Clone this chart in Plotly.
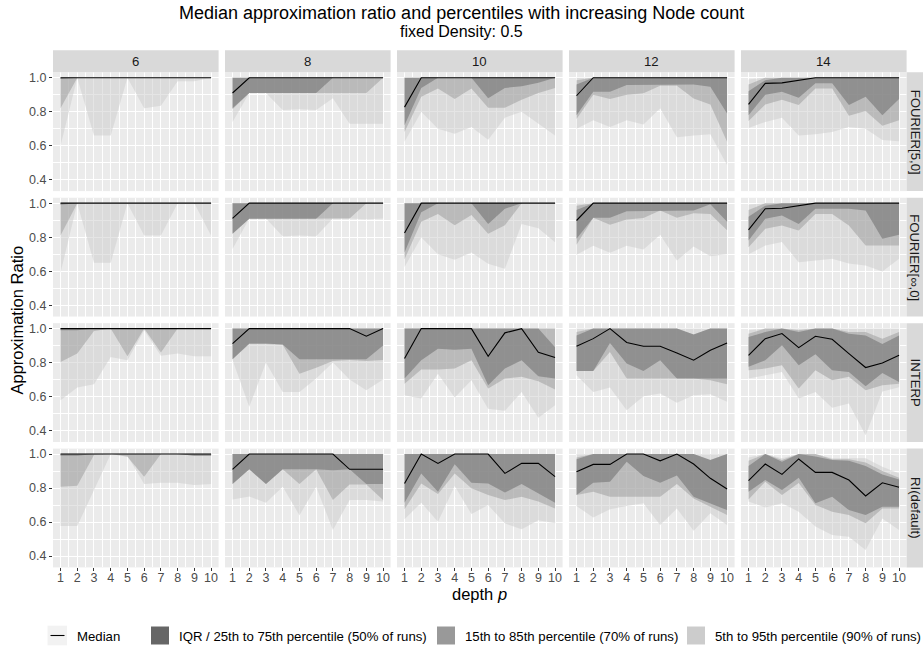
import plotly.graph_objects as go

# ---------------------------------------------------------------- data
DEPTH = [1, 2, 3, 4, 5, 6, 7, 8, 9, 10]
NODES = [6, 8, 10, 12, 14]
METHODS = ["FOURIER[5,0]", "FOURIER[\u221e,0]", "INTERP", "RI(default)"]
Y_TICKS = [0.4, 0.6, 0.8, 1.0]
Y_TICK_TEXT = ["0.4", "0.6", "0.8", "1.0"]

ONES = [1.0, 1.0, 1.0, 1.0, 1.0, 1.0, 1.0, 1.0, 1.0, 1.0]

# FOURIER[5,0]
F5_P05 = {6: [0.60, 1.00, 0.66, 0.66, 1.00, 0.82, 0.835, 0.98, 0.98, 1.00],
          8: [0.74, 0.91, 0.91, 0.81, 0.815, 0.81, 0.88, 0.73, 0.73, 0.73],
          10: [0.624, 0.80, 0.70, 0.67, 0.71, 0.635, 0.765, 0.80, 0.73, 0.66],
          12: [0.70, 0.75, 0.71, 0.75, 0.725, 0.82, 0.65, 0.66, 0.667, 0.486],
          14: [0.705, 0.74, 0.765, 0.66, 0.667, 0.68, 0.71, 0.70, 0.633, 0.627]}
F5_P15 = {6: [0.82, 1.0, 1.0, 1.0, 1.0, 1.0, 1.0, 1.0, 1.0, 1.0],
          8: [0.815, 0.91, 0.91, 0.91, 0.91, 0.91, 0.91, 0.91, 0.91, 1.0],
          10: [0.68, 0.888, 0.937, 0.875, 0.937, 0.824, 0.824, 0.87, 0.91, 0.94],
          12: [0.757, 0.90, 0.875, 0.90, 0.908, 0.953, 0.953, 0.878, 0.843, 0.624],
          14: [0.745, 0.843, 0.87, 0.84, 0.937, 0.937, 0.776, 0.804, 0.718, 0.75]}
F5_P25 = {6: [0.993, 1.0, 1.0, 1.0, 1.0, 1.0, 1.0, 1.0, 1.0, 1.0],
          8: [0.82, 0.91, 0.91, 0.91, 0.91, 0.91, 1.0, 1.0, 1.0, 1.0],
          10: [0.72, 0.94, 1.0, 1.0, 1.0, 0.88, 0.94, 0.95, 0.97, 1.0],
          12: [0.78, 0.918, 0.918, 0.957, 0.957, 0.96, 0.96, 0.96, 0.947, 0.79],
          14: [0.78, 0.90, 0.918, 0.882, 0.967, 0.967, 0.84, 0.888, 0.78, 0.875]}
F5_P50 = {6: [1.0, 1.0, 1.0, 1.0, 1.0, 1.0, 1.0, 1.0, 1.0, 1.0],
          8: [0.91, 1.0, 1.0, 1.0, 1.0, 1.0, 1.0, 1.0, 1.0, 1.0],
          10: [0.827, 1.0, 1.0, 1.0, 1.0, 1.0, 1.0, 1.0, 1.0, 1.0],
          12: [0.894, 1.0, 1.0, 1.0, 1.0, 1.0, 1.0, 1.0, 1.0, 1.0],
          14: [0.843, 0.967, 0.97, 0.984, 1.0, 1.0, 1.0, 1.0, 1.0, 1.0]}
F5_P75 = {6: ONES, 8: ONES, 10: ONES,
          12: [0.96, 1.0, 1.0, 1.0, 1.0, 1.0, 1.0, 1.0, 1.0, 1.0],
          14: [0.92, 0.985, 1.0, 1.0, 1.0, 1.0, 1.0, 1.0, 1.0, 1.0]}
F5_P85 = {6: ONES, 8: ONES, 10: ONES,
          12: [0.985, 1.0, 1.0, 1.0, 1.0, 1.0, 1.0, 1.0, 1.0, 1.0],
          14: [0.96, 1.0, 1.0, 1.0, 1.0, 1.0, 1.0, 1.0, 1.0, 1.0]}
F5_P95 = {6: ONES, 8: ONES, 10: ONES, 12: ONES,
          14: [0.99, 1.0, 1.0, 1.0, 1.0, 1.0, 1.0, 1.0, 1.0, 1.0]}

# FOURIER[inf,0]
FI_P05 = {6: [0.59, 1.0, 0.65, 0.65, 1.0, 0.81, 0.81, 1.0, 1.0, 0.81],
          8: [0.73, 0.91, 0.91, 0.806, 0.81, 0.806, 0.91, 0.91, 0.905, 0.91],
          10: [0.624, 0.80, 0.70, 0.667, 0.71, 0.643, 0.614, 0.878, 0.853, 0.77],
          12: [0.696, 0.75, 0.708, 0.75, 0.727, 0.814, 0.663, 0.745, 0.688, 0.70],
          14: [0.70, 0.751, 0.771, 0.653, 0.663, 0.673, 0.645, 0.633, 0.598, 0.673]}
FI_P15 = {6: [0.81, 1.0, 1.0, 1.0, 1.0, 1.0, 1.0, 1.0, 1.0, 1.0],
          8: [0.82, 0.908, 0.908, 0.908, 0.908, 0.908, 0.91, 0.91, 1.0, 1.0],
          10: [0.67, 0.89, 0.937, 0.87, 0.93, 0.82, 0.87, 1.0, 1.0, 1.0],
          12: [0.755, 0.914, 0.873, 0.904, 0.912, 0.957, 0.914, 0.94, 0.937, 0.84],
          14: [0.741, 0.849, 0.869, 0.839, 0.937, 0.937, 0.869, 0.751, 0.751, 0.751]}
FI_P25 = {6: [0.99, 1.0, 1.0, 1.0, 1.0, 1.0, 1.0, 1.0, 1.0, 1.0],
          8: [0.82, 0.908, 0.908, 0.908, 0.908, 0.908, 1.0, 1.0, 1.0, 1.0],
          10: [0.71, 0.947, 1.0, 1.0, 1.0, 0.878, 0.967, 1.0, 1.0, 1.0],
          12: [0.79, 0.914, 0.914, 0.953, 0.957, 0.957, 0.957, 0.957, 0.994, 0.89],
          14: [0.78, 0.908, 0.927, 0.878, 0.967, 0.967, 0.967, 0.957, 0.79, 0.814]}
FI_P50 = {6: [1.0, 1.0, 1.0, 1.0, 1.0, 1.0, 1.0, 1.0, 1.0, 1.0],
          8: [0.91, 1.0, 1.0, 1.0, 1.0, 1.0, 1.0, 1.0, 1.0, 1.0],
          10: [0.825, 1.0, 1.0, 1.0, 1.0, 1.0, 1.0, 1.0, 1.0, 1.0],
          12: [0.898, 1.0, 1.0, 1.0, 1.0, 1.0, 1.0, 1.0, 1.0, 1.0],
          14: [0.843, 0.967, 0.97, 0.986, 1.0, 1.0, 1.0, 1.0, 1.0, 1.0]}
FI_P75 = {6: ONES, 8: ONES, 10: ONES,
          12: [0.96, 1.0, 1.0, 1.0, 1.0, 1.0, 1.0, 1.0, 1.0, 1.0],
          14: [0.92, 0.985, 1.0, 1.0, 1.0, 1.0, 1.0, 1.0, 1.0, 1.0]}
FI_P85 = {6: ONES, 8: ONES, 10: ONES,
          12: [0.985, 1.0, 1.0, 1.0, 1.0, 1.0, 1.0, 1.0, 1.0, 1.0],
          14: [0.96, 1.0, 1.0, 1.0, 1.0, 1.0, 1.0, 1.0, 1.0, 1.0]}
FI_P95 = {6: ONES, 8: ONES, 10: ONES, 12: ONES,
          14: [0.99, 1.0, 1.0, 1.0, 1.0, 1.0, 1.0, 1.0, 1.0, 1.0]}

# INTERP
IN_P05 = {6: [0.578, 0.653, 0.673, 0.833, 0.814, 0.99, 0.84, 0.853, 0.837, 0.837],
          8: [0.815, 0.54, 0.80, 0.627, 0.627, 0.706, 0.80, 0.70, 0.637, 0.70],
          10: [0.608, 0.588, 0.735, 0.594, 0.696, 0.529, 0.516, 0.627, 0.476, 0.549],
          12: [0.725, 0.627, 0.653, 0.52, 0.602, 0.618, 0.563, 0.608, 0.614, 0.569],
          14: [0.706, 0.725, 0.745, 0.588, 0.627, 0.535, 0.559, 0.373, 0.63, 0.655]}
IN_P15 = {6: [0.804, 0.853, 0.986, 1.0, 0.837, 1.0, 0.86, 1.0, 1.0, 1.0],
          8: [0.82, 0.91, 0.91, 0.905, 0.735, 0.77, 0.81, 0.815, 0.81, 0.815],
          10: [0.676, 0.759, 0.759, 0.765, 0.814, 0.647, 0.706, 0.716, 0.69, 0.641],
          12: [0.75, 0.751, 0.863, 0.706, 0.706, 0.706, 0.706, 0.706, 0.696, 0.673],
          14: [0.755, 0.765, 0.784, 0.647, 0.755, 0.696, 0.716, 0.637, 0.667, 0.675]}
IN_P25 = {6: [0.99, 0.99, 1.0, 1.0, 1.0, 1.0, 1.0, 1.0, 1.0, 1.0],
          8: [0.82, 0.912, 0.912, 0.906, 0.82, 0.82, 0.82, 0.82, 0.82, 0.90],
          10: [0.706, 0.814, 0.882, 0.876, 0.882, 0.667, 0.765, 0.814, 0.72, 0.706],
          12: [0.751, 0.751, 0.916, 0.794, 0.751, 0.814, 0.706, 0.706, 0.706, 0.706],
          14: [0.775, 0.814, 0.902, 0.784, 0.849, 0.755, 0.745, 0.661, 0.739, 0.686]}
IN_P50 = {6: [1.0, 1.0, 1.0, 1.0, 1.0, 1.0, 1.0, 1.0, 1.0, 1.0],
          8: [0.912, 1.0, 1.0, 1.0, 1.0, 1.0, 1.0, 1.0, 0.955, 1.0],
          10: [0.824, 1.0, 1.0, 1.0, 1.0, 0.837, 0.975, 1.0, 0.86, 0.83],
          12: [0.896, 0.941, 1.0, 0.918, 0.896, 0.896, 0.857, 0.814, 0.873, 0.916],
          14: [0.843, 0.941, 0.971, 0.888, 0.955, 0.937, 0.853, 0.771, 0.798, 0.843]}
IN_P75 = {6: ONES, 8: ONES,
          10: [1.0, 1.0, 1.0, 1.0, 1.0, 1.0, 1.0, 1.0, 1.0, 0.89],
          12: [0.96, 1.0, 1.0, 1.0, 1.0, 1.0, 1.0, 0.965, 1.0, 1.0],
          14: [0.95, 0.98, 1.0, 0.98, 1.0, 1.0, 0.97, 0.96, 0.91, 0.96]}
IN_P85 = {6: ONES, 8: ONES, 10: ONES,
          12: [0.98, 1.0, 1.0, 1.0, 1.0, 1.0, 1.0, 0.965, 1.0, 1.0],
          14: [0.97, 1.0, 1.0, 0.99, 1.0, 1.0, 0.98, 0.98, 0.94, 0.98]}
IN_P95 = {6: ONES, 8: ONES, 10: ONES, 12: ONES,
          14: [0.99, 1.0, 1.0, 1.0, 1.0, 1.0, 1.0, 1.0, 1.0, 1.0]}

# RI(default)
RI_P05 = {6: [0.576, 0.576, 0.788, 1.0, 0.99, 0.824, 0.831, 0.831, 0.818, 0.824],
          8: [0.733, 0.75, 0.714, 0.808, 0.64, 0.808, 0.553, 0.73, 0.73, 0.72],
          10: [0.616, 0.714, 0.602, 0.812, 0.647, 0.70, 0.592, 0.557, 0.61, 0.592],
          12: [0.694, 0.627, 0.675, 0.694, 0.71, 0.582, 0.68, 0.549, 0.651, 0.582],
          14: [0.72, 0.686, 0.71, 0.661, 0.573, 0.524, 0.514, 0.435, 0.62, 0.553]}
RI_P15 = {6: [0.808, 0.814, 0.994, 1.0, 0.984, 0.867, 1.0, 1.0, 0.99, 0.99],
          8: [0.824, 0.91, 0.824, 0.91, 0.824, 0.91, 0.73, 0.82, 0.82, 0.73],
          10: [0.675, 0.827, 0.765, 0.886, 0.798, 0.759, 0.729, 0.749, 0.72, 0.68],
          12: [0.759, 0.778, 0.749, 0.749, 0.749, 0.749, 0.824, 0.739, 0.69, 0.641],
          14: [0.733, 0.837, 0.759, 0.83, 0.70, 0.661, 0.641, 0.592, 0.68, 0.68]}
RI_P25 = {6: [0.99, 0.99, 1.0, 1.0, 1.0, 1.0, 1.0, 1.0, 0.99, 0.99],
          8: [0.824, 0.91, 0.824, 0.91, 0.91, 0.91, 0.905, 0.91, 0.824, 0.824],
          10: [0.714, 0.886, 0.778, 0.94, 0.831, 0.827, 0.773, 0.824, 0.769, 0.714],
          12: [0.759, 0.831, 0.837, 0.955, 0.871, 0.831, 0.873, 0.749, 0.71, 0.67],
          14: [0.778, 0.847, 0.788, 0.86, 0.71, 0.749, 0.67, 0.641, 0.69, 0.69]}
RI_P50 = {6: [1.0, 1.0, 1.0, 1.0, 1.0, 1.0, 1.0, 1.0, 1.0, 1.0],
          8: [0.91, 1.0, 1.0, 1.0, 1.0, 1.0, 1.0, 0.91, 0.91, 0.91],
          10: [0.827, 1.0, 0.945, 1.0, 1.0, 1.0, 0.886, 0.945, 0.945, 0.867],
          12: [0.896, 0.939, 0.939, 1.0, 1.0, 0.96, 1.0, 0.941, 0.857, 0.794],
          14: [0.843, 0.941, 0.88, 0.971, 0.892, 0.892, 0.847, 0.753, 0.831, 0.804]}
RI_P75 = {6: ONES, 8: ONES, 10: ONES,
          12: [0.97, 1.0, 1.0, 1.0, 1.0, 1.0, 1.0, 1.0, 0.965, 1.0],
          14: [0.93, 1.0, 0.955, 1.0, 0.985, 0.965, 0.96, 0.93, 0.88, 0.85]}
RI_P85 = {6: ONES, 8: ONES, 10: ONES,
          12: [0.98, 1.0, 1.0, 1.0, 1.0, 1.0, 1.0, 1.0, 0.965, 1.0],
          14: [0.96, 1.0, 0.965, 1.0, 1.0, 0.97, 0.97, 0.95, 0.90, 0.86]}
RI_P95 = {6: ONES, 8: ONES, 10: ONES, 12: ONES,
          14: [0.98, 1.0, 0.975, 1.0, 1.0, 0.975, 0.975, 0.975, 0.925, 0.886]}

# method -> (p05, p15, p25, p50, p75, p85, p95)
TABLE = {
    METHODS[0]: (F5_P05, F5_P15, F5_P25, F5_P50, F5_P75, F5_P85, F5_P95),
    METHODS[1]: (FI_P05, FI_P15, FI_P25, FI_P50, FI_P75, FI_P85, FI_P95),
    METHODS[2]: (IN_P05, IN_P15, IN_P25, IN_P50, IN_P75, IN_P85, IN_P95),
    METHODS[3]: (RI_P05, RI_P15, RI_P25, RI_P50, RI_P75, RI_P85, RI_P95),
}

LEGEND_LABELS = ["Median",
                 "IQR / 25th to 75th percentile (50% of runs)",
                 "15th to 85th percentile (70% of runs)",
                 "5th to 95th percentile (90% of runs)"]

# ---------------------------------------------------------------- styling
W, H = 923, 648
FONT = "Liberation Sans, Arial, Helvetica, sans-serif"
BAND_FILL = {"light": "rgba(204,204,204,0.5)",
             "mid": "rgba(153,153,153,0.5)",
             "dark": "rgba(102,102,102,0.5)"}
KEY_FILL = {"light": "#CCCCCC", "mid": "#999999", "dark": "#666666"}

PANEL_L0, PANEL_DX, PANEL_W = 53.0, 172.0, 165.6
PANEL_T0, PANEL_DY, PANEL_H = 72.3, 125.43, 118.8
X_RANGE = [0.55, 10.45]
Y_RANGE = [0.333, 1.032]
TICK_FONT = dict(family=FONT, size=12.5, color="#4D4D4D")


def px(x):
    return x / W


def py(y):
    return 1 - y / H


def text(s, x, y, size, color="black", angle=0, xanchor="center"):
    return dict(text=s, xref="paper", yref="paper", x=px(x), y=py(y),
                xanchor=xanchor, yanchor="middle", showarrow=False,
                textangle=angle, font=dict(family=FONT, size=size, color=color))


fig = go.Figure()
layout = {}
shapes = []
annotations = []

for r, method in enumerate(METHODS):
    p05, p15, p25, p50, p75, p85, p95 = TABLE[method]
    for c, n in enumerate(NODES):
        k = r * len(NODES) + c + 1
        xa = "x" if k == 1 else f"x{k}"
        ya = "y" if k == 1 else f"y{k}"
        left = PANEL_L0 + c * PANEL_DX
        top = PANEL_T0 + r * PANEL_DY

        # percentile ribbons, widest first so the narrower ones stack on top
        for lo, hi, key in ((p05, p95, "light"), (p15, p85, "mid"), (p25, p75, "dark")):
            fig.add_trace(go.Scatter(
                x=DEPTH + DEPTH[::-1], y=hi[n] + lo[n][::-1],
                fill="toself", fillcolor=BAND_FILL[key], mode="lines",
                line=dict(width=0), hoverinfo="skip", showlegend=False,
                xaxis=xa, yaxis=ya))
        fig.add_trace(go.Scatter(
            x=DEPTH, y=p50[n], mode="lines", name="Median",
            line=dict(color="black", width=1.1), showlegend=False,
            xaxis=xa, yaxis=ya))

        bottom_row = r == len(METHODS) - 1
        left_col = c == 0
        layout["xaxis" if k == 1 else f"xaxis{k}"] = dict(
            domain=[px(left), px(left + PANEL_W)], anchor=ya, range=X_RANGE,
            tickmode="array", tickvals=DEPTH, ticktext=[str(d) for d in DEPTH],
            showgrid=True, gridcolor="white", gridwidth=1.1,
            minor=dict(tickmode="array", tickvals=[1.5, 2.5, 3.5, 4.5, 5.5, 6.5, 7.5, 8.5, 9.5],
                       showgrid=True, gridcolor="white", gridwidth=0.55),
            zeroline=False, showline=False,
            ticks="outside" if bottom_row else "", ticklen=3, tickwidth=1,
            tickcolor="#333333", showticklabels=bottom_row, ticklabelstandoff=-4,
            tickfont=TICK_FONT, fixedrange=True)
        layout["yaxis" if k == 1 else f"yaxis{k}"] = dict(
            domain=[py(top + PANEL_H), py(top)], anchor=xa, range=Y_RANGE,
            tickmode="array", tickvals=Y_TICKS, ticktext=Y_TICK_TEXT,
            showgrid=True, gridcolor="white", gridwidth=1.1,
            minor=dict(tickmode="array", tickvals=[0.5, 0.7, 0.9],
                       showgrid=True, gridcolor="white", gridwidth=0.55),
            zeroline=False, showline=False,
            ticks="outside" if left_col else "", ticklen=3, tickwidth=1,
            tickcolor="#333333", showticklabels=left_col,
            tickfont=TICK_FONT, fixedrange=True)

# facet strips: node counts along the top
for c, n in enumerate(NODES):
    left = PANEL_L0 + c * PANEL_DX
    shapes.append(dict(type="rect", xref="paper", yref="paper",
                       x0=px(left), x1=px(left + PANEL_W), y0=py(72.3), y1=py(50.3),
                       fillcolor="#D9D9D9", line=dict(width=0)))
    annotations.append(text(str(n), left + PANEL_W / 2, 61.8, 13.2, "#1A1A1A"))

# facet strips: methods along the right
strip_x0 = PANEL_L0 + 4 * PANEL_DX + PANEL_W
for r, method in enumerate(METHODS):
    top = PANEL_T0 + r * PANEL_DY
    shapes.append(dict(type="rect", xref="paper", yref="paper",
                       x0=px(strip_x0), x1=1.0, y0=py(top + PANEL_H), y1=py(top),
                       fillcolor="#D9D9D9", line=dict(width=0)))
    annotations.append(text(method, 915.0, top + PANEL_H / 2, 13.2, "#1A1A1A", angle=90))

# titles
annotations += [
    text("Median approximation ratio and percentiles with increasing Node count",
         461.5, 12.5, 18.0),
    text("fixed Density: 0.5", 461.5, 31.5, 16.0),
    text("Approximation Ratio", 16.5, 320, 16.5, angle=-90),
    text("depth <i>p</i>", 480, 594, 16.5),
]

# legend: median line key, then the three percentile bands
KEY = 18.0
LEG_Y = 635.5
shapes.append(dict(type="rect", xref="paper", yref="paper",
                   x0=px(47.5), x1=px(47.5 + KEY + 1.5), y0=py(LEG_Y + 9.8), y1=py(LEG_Y - 9.8),
                   fillcolor="#F2F2F2", line=dict(width=0)))
shapes.append(dict(type="line", xref="paper", yref="paper",
                   x0=px(50.5), x1=px(64.5), y0=py(LEG_Y), y1=py(LEG_Y),
                   line=dict(color="black", width=1.1)))
annotations.append(text(LEGEND_LABELS[0], 75.0, LEG_Y + 1, 13.2, xanchor="left"))

for (key_x, text_x), label, key in zip(((151.0, 177.0), (437.0, 463.3), (687.0, 713.3)),
                                        LEGEND_LABELS[1:], ("dark", "mid", "light")):
    shapes.append(dict(type="rect", xref="paper", yref="paper",
                       x0=px(key_x), x1=px(key_x + KEY),
                       y0=py(LEG_Y + KEY / 2), y1=py(LEG_Y - KEY / 2),
                       fillcolor=KEY_FILL[key], line=dict(width=0)))
    annotations.append(text(label, text_x, LEG_Y + 1, 13.2, xanchor="left"))

layout.update(
    width=W, height=H, autosize=False,
    margin=dict(l=0, r=0, t=0, b=0),
    paper_bgcolor="white", plot_bgcolor="#EBEBEB",
    font=dict(family=FONT, color="#1A1A1A"),
    shapes=shapes, annotations=annotations,
    showlegend=False,
)
fig.update_layout(layout)

fig.write_html("out.html", config={"displayModeBar": False})
